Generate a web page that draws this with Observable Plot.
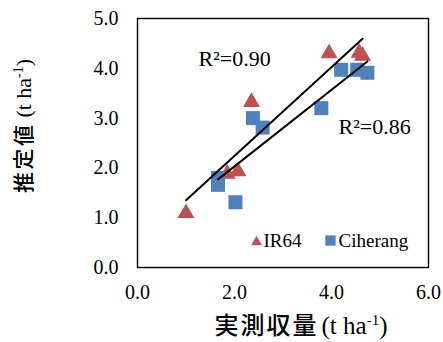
<!DOCTYPE html>
<html><head><meta charset="utf-8">
<script src="https://cdn.jsdelivr.net/npm/d3@7"></script>
<script src="https://cdn.jsdelivr.net/npm/@observablehq/plot@0.6"></script>
<style>body{margin:0;background:#fff}</style>
</head><body><div id="chart"></div>
<script>
// ---- data ----
const seriesNames = ["IR64", "Ciherang"];
const ir64X = [1.00, 1.85, 2.07, 2.35, 3.95, 4.57, 4.64];
const ir64Y = [1.14, 1.93, 1.98, 3.37, 4.35, 4.36, 4.30];
const ciherangX = [1.66, 1.66, 2.02, 2.38, 2.58, 3.79, 4.20, 4.53, 4.74];
const ciherangY = [1.80, 1.66, 1.31, 3.00, 2.81, 3.20, 3.97, 3.97, 3.91];
const xTicks = [0, 2, 4, 6];
const yTicks = [0, 1, 2, 3, 4, 5];
const r2Labels = ["R\u00B2=0.90", "R\u00B2=0.86"];
const xLabelMain = "実測収量";
const yLabelMain = "推定値";
const unitText = "t ha";
const unitSup = "-1";

const colors = ["#C0504D", "#4F81BD"];
const ir64 = ir64X.map((x, i) => ({x, y: ir64Y[i]}));
const ciherang = ciherangX.map((x, i) => ({x, y: ciherangY[i]}));

// triangle centred on its bounding box (as in the spreadsheet markers)
const triangle = {
  draw(ctx, size) {
    const s = Math.sqrt(size * 4 / Math.sqrt(3));
    const h = s * Math.sqrt(3) / 2;
    ctx.moveTo(0, -h / 2);
    ctx.lineTo(s / 2, h / 2);
    ctx.lineTo(-s / 2, h / 2);
    ctx.closePath();
  }
};

const serif = "'Liberation Serif', 'Times New Roman', serif";
const cjk = "'Noto Sans CJK JP', sans-serif";

const svg = Plot.plot({
  width: 443,
  height: 342,
  marginLeft: 137,
  marginRight: 15,
  marginTop: 18,
  marginBottom: 75,
  style: {fontFamily: serif, fontSize: "20px", color: "#000", background: "#fff"},
  x: {domain: [0, 6], ticks: xTicks, tickFormat: d3.format(".1f"), tickSize: 0, tickPadding: 17, label: null},
  y: {domain: [0, 5], ticks: yTicks, tickFormat: d3.format(".1f"), tickSize: 0, tickPadding: 19, label: null},
  marks: [
    Plot.frame({stroke: "#000", strokeWidth: 1.4}),
    Plot.dot(ir64, {x: "x", y: "y", symbol: triangle, r: 6.3, fill: colors[0]}),
    Plot.dot(ciherang, {x: "x", y: "y", symbol: "square", r: 7.9, fill: colors[1]}),
    Plot.linearRegressionY(ir64, {x: "x", y: "y", stroke: "#000", strokeWidth: 2, ci: 0}),
    Plot.linearRegressionY(ciherang, {x: "x", y: "y", stroke: "#000", strokeWidth: 2, ci: 0}),
    Plot.text([r2Labels[0]], {frameAnchor: "top-left", text: d => d, textAnchor: "start", lineAnchor: "middle", dx: 61, dy: 40, fontSize: 22, fill: "#000"}),
    Plot.text([r2Labels[1]], {frameAnchor: "top-left", text: d => d, textAnchor: "start", lineAnchor: "middle", dx: 201, dy: 108, fontSize: 22, fill: "#000"}),
    // legend
    Plot.dot([seriesNames[0]], {frameAnchor: "bottom-left", dx: 119, dy: -27, symbol: triangle, r: 4, fill: colors[0]}),
    Plot.text([seriesNames[0]], {frameAnchor: "bottom-left", text: d => d, textAnchor: "start", lineAnchor: "middle", dx: 126, dy: -27, fontSize: 19, fill: "#000"}),
    Plot.dot([seriesNames[1]], {frameAnchor: "bottom-left", dx: 193, dy: -27, symbol: "square", r: 5.8, fill: colors[1]}),
    Plot.text([seriesNames[1]], {frameAnchor: "bottom-left", text: d => d, textAnchor: "start", lineAnchor: "middle", dx: 201, dy: -27, fontSize: 19, fill: "#000"})
  ]
});

const s = d3.select(svg);
// x axis title
const xl = s.append("text").attr("x", 301).attr("y", 334).attr("text-anchor", "middle").attr("fill", "#000");
xl.append("tspan").attr("font-family", cjk).attr("font-weight", 500).attr("font-size", 24).attr("letter-spacing", 2).text(xLabelMain);
xl.append("tspan").attr("font-family", serif).attr("font-size", 25).attr("dx", 3).text("(" + unitText);
xl.append("tspan").attr("font-family", serif).attr("font-size", 15).attr("dy", -9).text(unitSup);
xl.append("tspan").attr("font-family", serif).attr("font-size", 25).attr("dy", 9).text(")");
// y axis title
const yl = s.append("text").attr("transform", "translate(31,126) rotate(-90)").attr("text-anchor", "middle").attr("fill", "#000");
yl.append("tspan").attr("font-family", cjk).attr("font-weight", 500).attr("font-size", 21).attr("letter-spacing", 2.5).text(yLabelMain);
yl.append("tspan").attr("font-family", serif).attr("font-size", 22).attr("dx", 5).text("(" + unitText);
yl.append("tspan").attr("font-family", serif).attr("font-size", 14).attr("dy", -8).text(unitSup);
yl.append("tspan").attr("font-family", serif).attr("font-size", 22).attr("dy", 8).text(")");

document.getElementById("chart").appendChild(svg);
</script>
</body></html>
